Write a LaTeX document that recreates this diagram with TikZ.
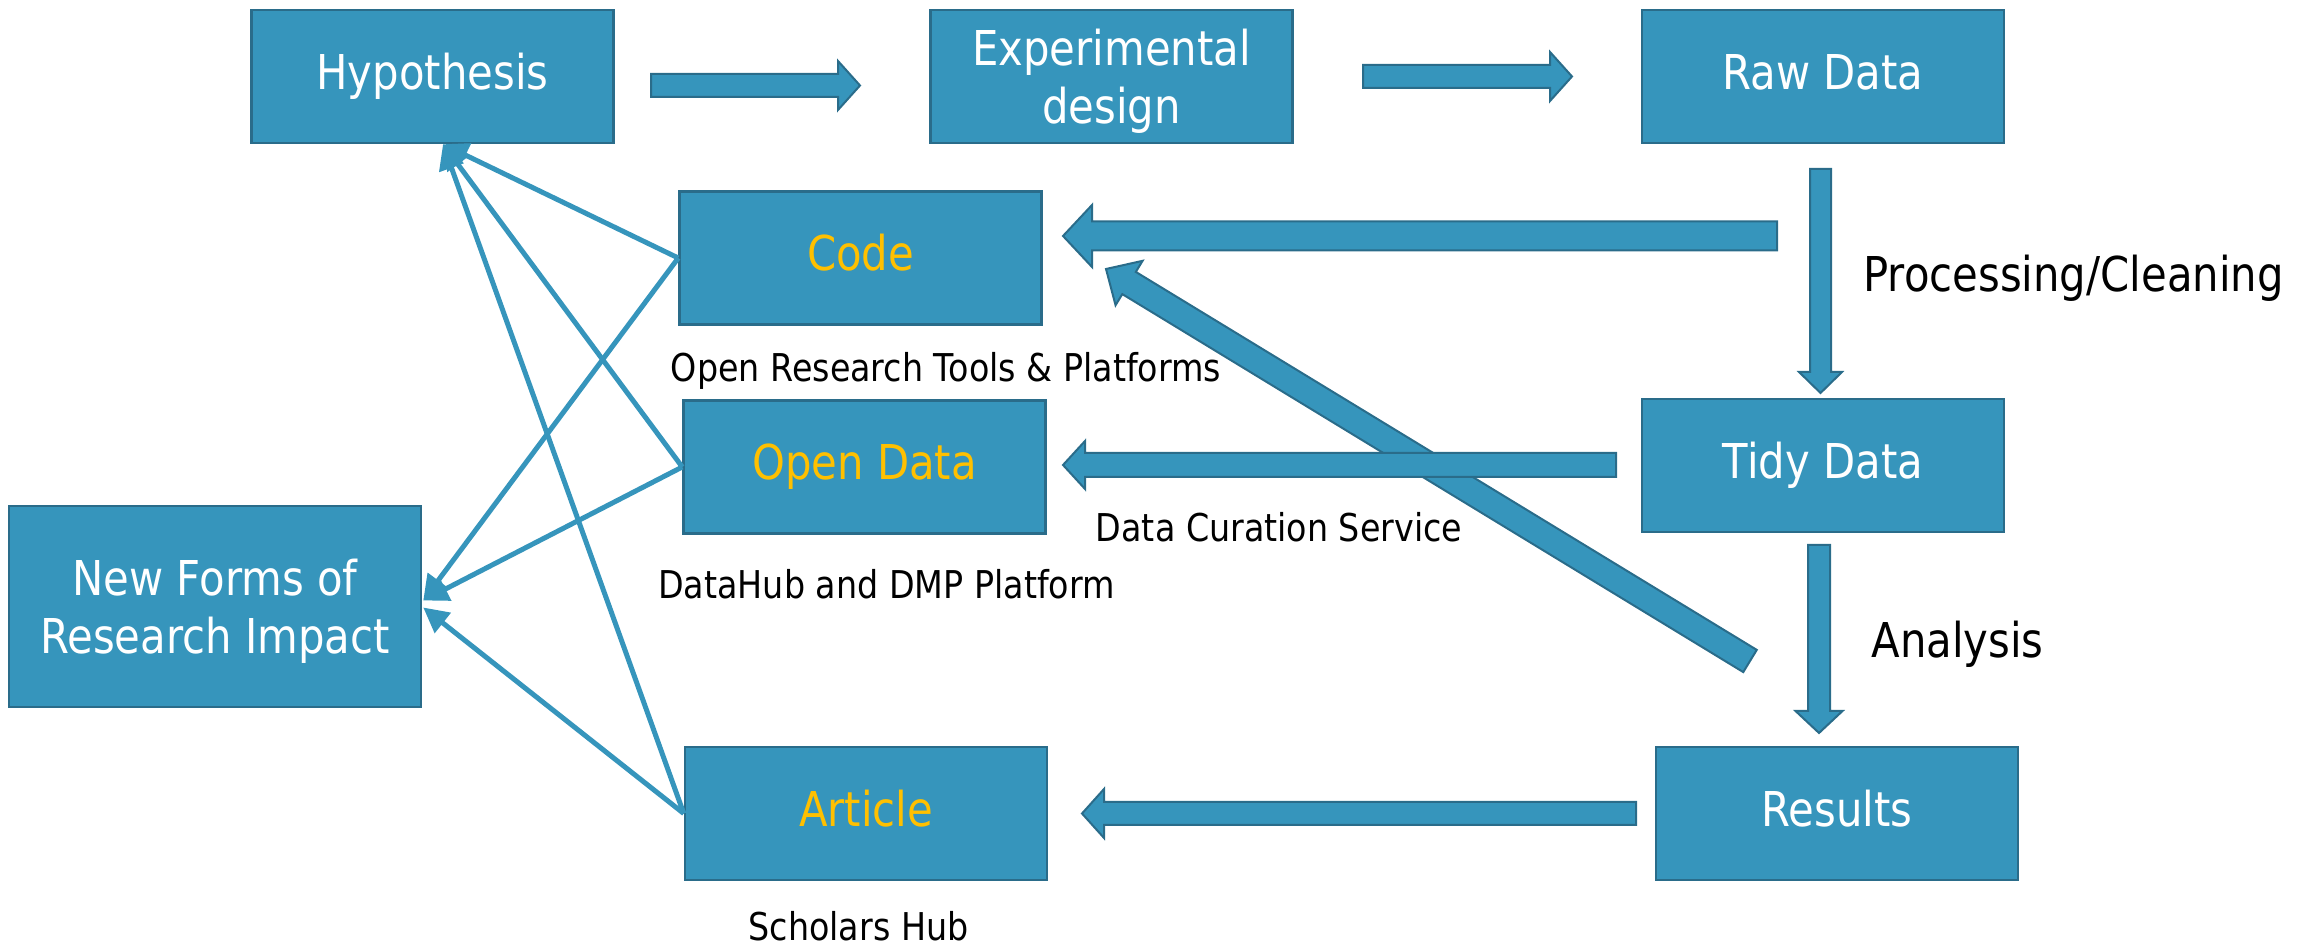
\documentclass[tikz,border=0pt]{standalone}
\usepackage{fontspec}
\setmainfont{DejaVu Sans}[FakeStretch=0.87]
\usetikzlibrary{calc,arrows.meta}
\definecolor{boxblue}{RGB}{54,149,188}
\definecolor{boxedge}{RGB}{42,108,138}
\definecolor{gold}{RGB}{255,192,0}
\newcommand{\bigfont}{\fontsize{13.66}{16.4}\selectfont}
\newcommand{\smallfont}{\fontsize{10.9}{13}\selectfont}
\tikzset{
  stepbox/.style={rectangle,fill=boxblue,draw=boxedge,line width=0.25mm,minimum width=36.2mm,minimum height=13.3mm,text=white,font=\bigfont,align=center,inner sep=0pt},
  oneline/.style={text height=0.98em,text depth=0.25em},
  twoline/.style={text depth=0pt},
  fatline/.style={fill=boxblue,draw=boxedge,line width=0.2mm,line join=miter},
  thinline/.style={draw=boxblue,line width=0.5mm,-{Triangle[length=2.5mm,width=2.5mm]}},
  note/.style={font=\smallfont,inner sep=0pt,anchor=base},
}
% tail, tip, half shaft, half head, head length
\newcommand{\fatarrow}[5]{%
  \coordinate (fabase) at ($(#2)!#5!(#1)$);
  \draw[fatline] ($(#1)!#3!90:(#2)$) -- ($(fabase)!#3!90:(#2)$) -- ($(fabase)!#4!90:(#2)$) -- (#2)
    -- ($(fabase)!#4!-90:(#2)$) -- ($(fabase)!#3!-90:(#2)$) -- ($(#1)!#3!-90:(#2)$) -- cycle;}

\begin{document}
\begin{tikzpicture}[x=0.1mm,y=-0.1mm]
	\useasboundingbox (0,0) rectangle (2299,947);
	%BOXES
	\node[stepbox,oneline] (hyp) at (432.5,76.5) {Hypothesis};
	\node[stepbox,twoline] (exp) at (1111.5,76.5) {Experimental\\design};
	\node[stepbox,oneline] (raw) at (1823,76.5) {Raw Data};
	\node[stepbox,oneline,text=gold] (code) at (860.5,258) {Code};
	\node[stepbox,oneline,text=gold] (open) at (864.5,467) {Open Data};
	\node[stepbox,oneline] (tidy) at (1823,465.5) {Tidy Data};
	\node[stepbox,twoline,minimum width=41.2mm,minimum height=20.1mm] (impact) at (215,606.5) {New Forms of\\Research Impact};
	\node[stepbox,oneline,text=gold] (article) at (866,813.5) {Article};
	\node[stepbox,oneline] (results) at (1837,813.5) {Results};
	%LABELS
	\node[note] (tools) at (946,382) {Open Research Tools \& Platforms};
	\node[note,font=\bigfont] (proc) at (2073.5,292) {Processing/Cleaning};
	\node[note] (curation) at (1279,542) {Data Curation Service};
	\node[note] (datahub) at (886.5,599) {DataHub and DMP Platform};
	\node[note,font=\bigfont] (analysis) at (1957.5,658) {Analysis};
	\node[note] (scholars) at (858.5,940) {Scholars Hub};
	%THIN LINKS
	\coordinate (hypin) at ($(hyp.south)+(10.5,0)$);
	\coordinate (impin) at ($(impact.east)+(1,-6)$);
	\coordinate (impin2) at ($(impact.east)+(1,1)$);
	\foreach \src in {code,open,article}
		\draw[thinline] (\src.west) -- (hypin);
	\draw[thinline] (code.west) -- (impin);
	\draw[thinline] (open.west) -- (impin);
	\draw[thinline] (article.west) -- (impin2);
	%BLOCK ARROWS
	\coordinate (a1s) at (651,85.5);   \coordinate (a1e) at (860,85.5);
	\coordinate (a2s) at (1363,76.5);  \coordinate (a2e) at (1572,76.5);
	\coordinate (a3s) at (1777,236);   \coordinate (a3e) at (1063,236);
	\coordinate (a4s) at (1820.5,169); \coordinate (a4e) at (1820.5,393);
	\coordinate (a5s) at (1616,465);   \coordinate (a5e) at (1063,465);
	\coordinate (a6s) at (1819,545);   \coordinate (a6e) at (1819,733);
	\coordinate (a7s) at (1636,813.5); \coordinate (a7e) at (1082,813.5);
	\coordinate (a8s) at (1750,661);   \coordinate (a8e) at (1106,269);
	\fatarrow{a8s}{a8e}{1.3mm}{2.6mm}{2.7mm}
	\fatarrow{a1s}{a1e}{1.15mm}{2.45mm}{2.2mm}
	\fatarrow{a2s}{a2e}{1.15mm}{2.45mm}{2.2mm}
	\fatarrow{a3s}{a3e}{1.45mm}{3.1mm}{2.9mm}
	\fatarrow{a4s}{a4e}{1.05mm}{2.15mm}{2.1mm}
	\fatarrow{a5s}{a5e}{1.2mm}{2.4mm}{2.2mm}
	\fatarrow{a6s}{a6e}{1.1mm}{2.35mm}{2.2mm}
	\fatarrow{a7s}{a7e}{1.15mm}{2.45mm}{2.2mm}
\end{tikzpicture}
\end{document}
